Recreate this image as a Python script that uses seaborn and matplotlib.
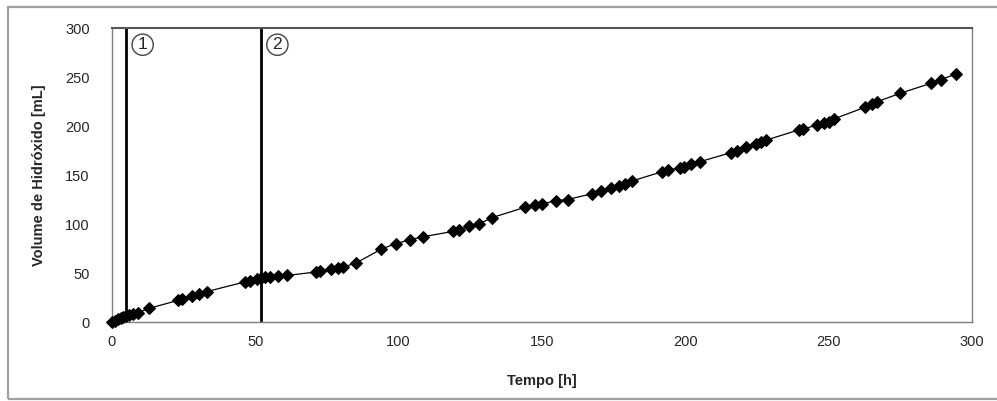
import numpy as np
import pandas as pd
import matplotlib
matplotlib.use('Agg')
import matplotlib.pyplot as plt
import seaborn as sns
from matplotlib.patches import Rectangle

# data
tempo = [0, 1, 2, 3, 4, 5, 6, 7.5, 9, 13, 23, 24.5, 28, 30.5, 33,
         46.5, 48, 50.5, 52, 53.5, 55, 58, 61, 71, 72.5, 76.5, 79, 80.5, 85,
         94, 99, 104, 108.5, 119, 121, 124.5, 128, 132.5, 144, 147.5, 150,
         155, 159, 167.5, 170.5, 174, 177, 179, 181.5, 192, 194, 198, 199.5,
         202, 205, 216, 218, 221, 224.5, 226.5, 228, 239.5, 241, 246, 248.5,
         250, 252, 262.5, 265, 267, 275, 285.5, 289, 294.5]
volume = [0, 1.5, 3, 4, 5, 6, 7, 8, 9.5, 14, 22, 23, 27, 28.6, 31,
          41, 42, 43.5, 45, 45.5, 46, 46.5, 47.5, 51, 52, 54, 55.5, 56, 60,
          74.5, 80, 84, 87, 92.5, 94, 97.5, 100, 106.5, 117, 119.5, 120.5,
          124, 125, 131, 133.5, 136.5, 139, 141, 144, 153.5, 155, 157.5, 158.5,
          161, 163.5, 173, 175, 178.5, 181.5, 183.5, 185.5, 196, 197, 201, 203,
          204.5, 207.5, 219, 222.5, 225, 233.5, 243.5, 247.5, 253]
eventos = [5, 52]
eventos_lab = ['1', '2']

df = pd.DataFrame({'Tempo': tempo, 'Volume': volume})

sns.set_style('white')
plt.rcParams['font.family'] = ['Liberation Sans', 'DejaVu Sans']

fig = plt.figure(figsize=(9.97, 4.01), dpi=100)
ax = fig.add_axes([0.1123, 0.197, 0.8627, 0.733])

sns.lineplot(data=df, x='Tempo', y='Volume', marker='D', color='black',
             markersize=6.5, linewidth=0.9, markeredgecolor='black', ax=ax,
             sort=False, clip_on=False, zorder=5)
for xe, lab in zip(eventos, eventos_lab):
    ax.axvline(xe, color='black', linewidth=2)
    ax.text(xe + 5.7, 283, lab, ha='center', va='center', fontsize=12.5,
            bbox=dict(boxstyle='circle,pad=0.18', fc='white', ec='#444444', lw=1.0))

ax.set_xlim(0, 300)
ax.set_ylim(0, 300)
ax.set_xticks(range(0, 301, 50))
ax.set_yticks(range(0, 301, 50))
ax.tick_params(length=0, labelsize=10.5, pad=9)
ax.tick_params(axis='y', pad=16)
for s in ax.spines.values():
    s.set_color('#7f7f7f')
    s.set_linewidth(1)
ax.spines['top'].set_color('#555555')
ax.spines['top'].set_linewidth(1.5)
ax.set_xlabel('Tempo [h]', fontsize=10.5, fontweight='bold', labelpad=18)
ax.set_ylabel('Volume de Hidróxido [mL]', fontsize=10.5, fontweight='bold', labelpad=14)

fig.patches.append(Rectangle((0.008, 0.005), 1.1, 0.978, transform=fig.transFigure,
                             fill=False, ec='#a0a0a0', lw=1.6))

fig.savefig('out.png', dpi=100)
